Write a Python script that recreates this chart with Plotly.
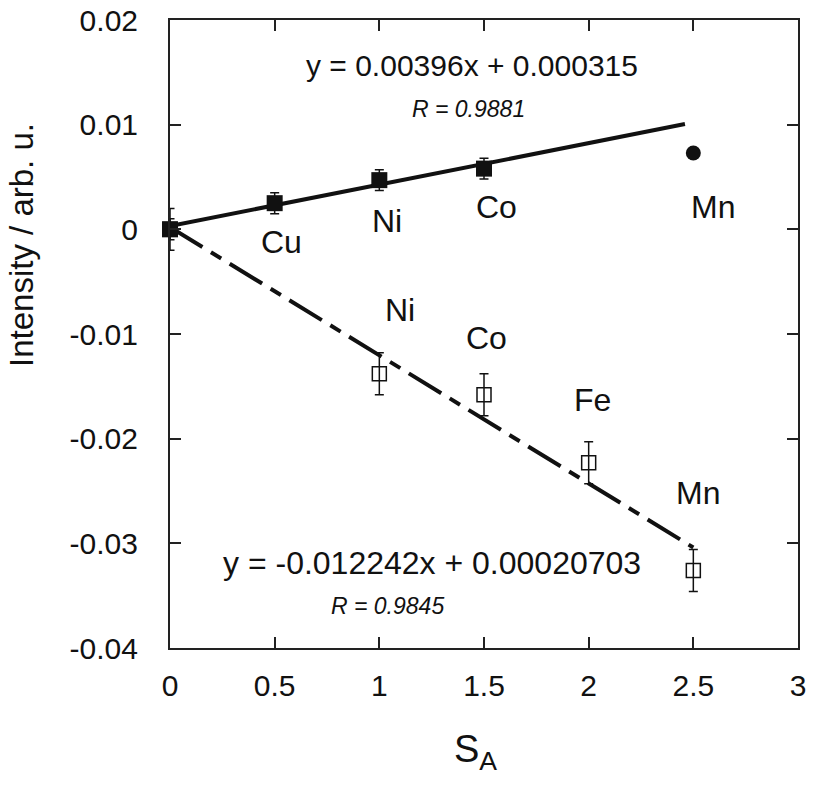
import plotly.graph_objects as go

# --- data ---
filled_x = [0, 0.5, 1.0, 1.5]
filled_y = [0.0, 0.0025, 0.0047, 0.0058]
filled_err = [0.001, 0.001, 0.001, 0.001]

mn_filled_x = [2.5]
mn_filled_y = [0.0073]

open_x = [0, 1.0, 1.5, 2.0, 2.5]
open_y = [0.0, -0.0138, -0.0158, -0.0223, -0.0326]
open_err = [0.002, 0.002, 0.002, 0.002, 0.002]

fit1_slope, fit1_icpt = 0.00396, 0.000315
fit1_x = [0.0, 2.46]
fit2_slope, fit2_icpt = -0.012242, 0.00020703
fit2_x = [0.0, 2.5]

upper_labels = ["Cu", "Ni", "Co", "Mn"]
upper_lx = [0.535, 1.037, 1.56, 2.595]
upper_ly = [-0.0012, 0.0008, 0.0021, 0.0021]

lower_labels = ["Ni", "Co", "Fe", "Mn"]
lower_lx = [1.10, 1.51, 2.02, 2.52]
lower_ly = [-0.0077, -0.0104, -0.0163, -0.0252]

x_ticks = [0, 0.5, 1, 1.5, 2, 2.5, 3]
x_ticktext = ["0", "0.5", "1", "1.5", "2", "2.5", "3"]
y_ticks = [-0.04, -0.03, -0.02, -0.01, 0, 0.01, 0.02]
y_ticktext = ["-0.04", "-0.03", "-0.02", "-0.01", "0", "0.01", "0.02"]

FONT = "Liberation Sans, Arial, Helvetica, sans-serif"
INK = "#111111"

fig = go.Figure()

fig.add_trace(go.Scatter(
    x=fit1_x, y=[fit1_slope * v + fit1_icpt for v in fit1_x],
    mode="lines", line=dict(color=INK, width=4), showlegend=False, hoverinfo="skip"))
fig.add_trace(go.Scatter(
    x=fit2_x, y=[fit2_slope * v + fit2_icpt for v in fit2_x],
    mode="lines", line=dict(color=INK, width=4, dash="38px,10px,12px,10px"),
    showlegend=False, hoverinfo="skip"))

fig.add_trace(go.Scatter(
    x=open_x, y=open_y, mode="markers",
    marker=dict(symbol="square-open", size=14, color=INK, line=dict(width=1.5, color=INK)),
    error_y=dict(type="data", array=open_err, visible=True, color=INK, thickness=1.5, width=4.5),
    cliponaxis=False, showlegend=False))

fig.add_trace(go.Scatter(
    x=filled_x, y=filled_y, mode="markers",
    marker=dict(symbol="square", size=16, color=INK),
    error_y=dict(type="data", array=filled_err, visible=True, color=INK, thickness=1.5, width=4.5),
    cliponaxis=False, showlegend=False))

fig.add_trace(go.Scatter(
    x=mn_filled_x, y=mn_filled_y, mode="markers",
    marker=dict(symbol="circle", size=15, color=INK),
    cliponaxis=False, showlegend=False))

annotations = []
for t, x, y in zip(upper_labels + lower_labels, upper_lx + lower_lx, upper_ly + lower_ly):
    annotations.append(dict(x=x, y=y, text=t, showarrow=False,
                            font=dict(family=FONT, size=32, color=INK)))
annotations += [
    dict(x=1.445, y=0.01566, text="y = 0.00396x + 0.000315", showarrow=False,
         font=dict(family=FONT, size=30, color=INK)),
    dict(x=1.424, y=0.0115, text="<i>R = 0.9881</i>", showarrow=False,
         font=dict(family=FONT, size=23, color=INK)),
    dict(x=1.25, y=-0.0319, text="y = -0.012242x + 0.00020703", showarrow=False,
         font=dict(family=FONT, size=32, color=INK)),
    dict(x=1.04, y=-0.036, text="<i>R = 0.9845</i>", showarrow=False,
         font=dict(family=FONT, size=23, color=INK)),
    # y-axis title (placed above centre, as in the reference)
    dict(xref="paper", yref="paper", x=0, y=0.6417, xshift=-149, xanchor="center", yanchor="middle",
         text="Intensity / arb. u.", textangle=-90, showarrow=False,
         font=dict(family=FONT, size=33, color=INK)),
    # x-axis title
    dict(xref="paper", yref="paper", x=0.487, y=0, yshift=-78, xanchor="center", yanchor="top",
         text="S<sub>A</sub>", showarrow=False,
         font=dict(family=FONT, size=38, color=INK)),
]

axis_common = dict(showline=True, linecolor="#222222", linewidth=2, mirror="ticks",
                   ticks="inside", ticklen=11, tickwidth=1.5, tickcolor="#222222",
                   showgrid=False, zeroline=False, automargin=False,
                   ticklabeloverflow="allow",
                   tickfont=dict(family=FONT, size=30, color=INK))

fig.update_layout(
    width=814, height=785,
    margin=dict(l=170, r=16, t=20, b=137),
    paper_bgcolor="white", plot_bgcolor="white",
    xaxis=dict(range=[0, 3], tickvals=x_ticks, ticktext=x_ticktext,
               ticklabelstandoff=10, **axis_common),
    yaxis=dict(range=[-0.04, 0.02], tickvals=y_ticks, ticktext=y_ticktext,
               ticklabelstandoff=24, **axis_common),
    annotations=annotations,
)

fig.write_html("out.html",
               config={"displayModeBar": False},
               post_script="document.body.style.margin='0px';document.body.style.overflow='hidden';")
